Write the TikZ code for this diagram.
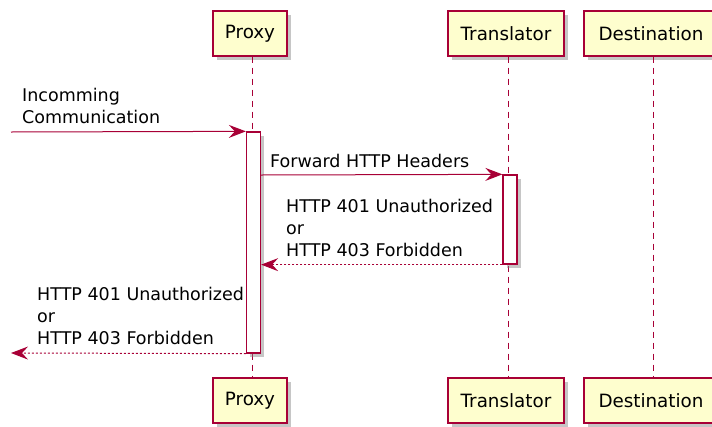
\documentclass[tikz,border=0pt]{standalone}
\usepackage{fontspec}
\setmainfont{DejaVu Sans}
\usetikzlibrary{arrows.meta,shadows}
\definecolor{UMLRed}{RGB}{168,0,54}
\definecolor{UMLYellow}{RGB}{254,254,206}

\tikzset{
  participant/.style={draw=UMLRed, fill=UMLYellow, line width=1.3pt, minimum height=45pt, inner sep=0pt,
    font=\fontsize{18.3}{22}\selectfont, drop shadow={shadow xshift=3.5pt, shadow yshift=-3.5pt, opacity=0.45}},
  lifeline/.style={draw=UMLRed, line width=1pt, dash pattern=on 6pt off 5pt},
  activation/.style={draw=UMLRed, fill=white, line width=1.3pt, minimum width=14pt, inner sep=0pt,
    drop shadow={shadow xshift=3.5pt, shadow yshift=-3.5pt, opacity=0.45}},
  msg/.style={draw=UMLRed, line width=1pt, -{Stealth[length=17pt, width=13pt, inset=6pt]}},
  reply/.style={msg, dash pattern=on 2pt off 2pt},
  msglabel/.style={inner sep=0pt, anchor=south west, align=left, text depth=0pt,
    font=\fontsize{17.5}{22}\selectfont}
}

\begin{document}
\begin{tikzpicture}[x=1pt, y=-1pt]
\pgfmathsetmacro{\xp}{252} % proxy lifeline
\pgfmathsetmacro{\xt}{508} % translator lifeline
\pgfmathsetmacro{\xd}{653} % destination lifeline

\useasboundingbox (0,0) rectangle (712,426);

% participants, top and bottom
\node[participant, minimum width=74pt] (proxytop) at (\xp-2, 33.5) {Proxy};
\node[participant, minimum width=116pt] (transtop) at (\xt-2, 33.5) {Translator};
\node[participant, minimum width=134pt] (desttop) at (\xd-2, 33.5) {Destination};
\node[participant, minimum width=74pt] (proxybot) at (\xp-2, 400.5) {Proxy};
\node[participant, minimum width=116pt] (transbot) at (\xt-2, 400.5) {Translator};
\node[participant, minimum width=134pt] (destbot) at (\xd-2, 400.5) {Destination};

% lifelines
\draw[lifeline] (proxytop.south -| \xp,0) -- (proxybot.north -| \xp,0);
\draw[lifeline] (transtop.south -| \xt,0) -- (transbot.north -| \xt,0);
\draw[lifeline] (desttop.south -| \xd,0) -- (destbot.north -| \xd,0);

% activations
\node[activation, minimum height=221pt] (proxyact) at (253.5, 242.5) {};
\node[activation, minimum height=89pt] (transact) at (510, 219.5) {};

% messages
\coordinate (incoming) at (11, 132);
\coordinate (outgoing) at (11, 353);
\draw[msg] (incoming) -- (proxyact.north west);
\draw[msg] (proxyact.east |- 0,175) -- (transact.north west);
\draw[reply] (transact.south west) -- (proxyact.east |- transact.south);
\draw[reply] (proxyact.south west) -- (outgoing);

% labels
\node[msglabel] (lblin) at (22, 124) {Incomming\\Communication};
\node[msglabel] (lblfwd) at (270, 168) {Forward HTTP Headers};
\node[msglabel] (lblret) at (286, 257) {HTTP 401 Unauthorized\\or\\HTTP 403 Forbidden};
\node[msglabel] (lblout) at (37, 345) {HTTP 401 Unauthorized\\or\\HTTP 403 Forbidden};

\end{tikzpicture}
\end{document}
